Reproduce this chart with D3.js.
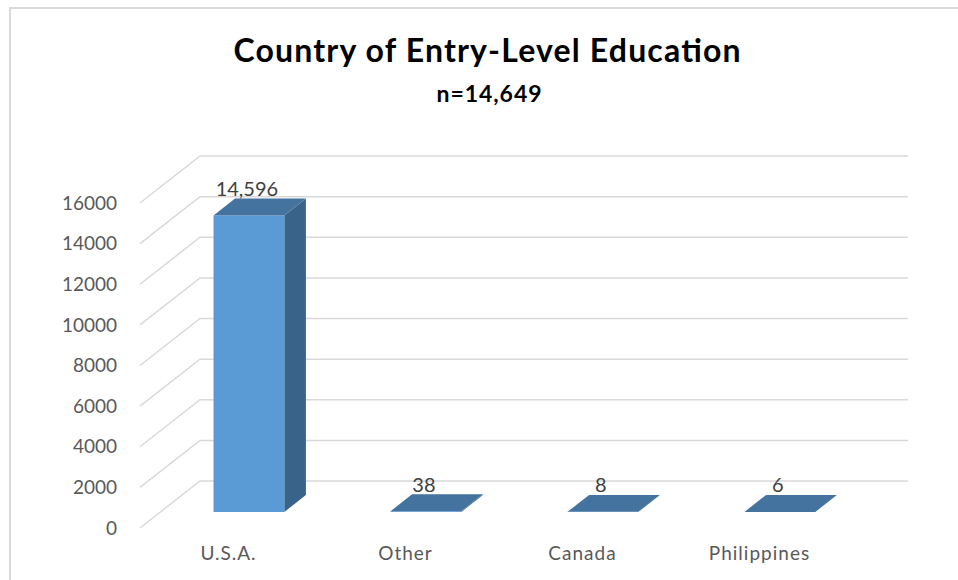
<!DOCTYPE html>
<html>
<head>
<meta charset="utf-8">
<script src="https://cdn.jsdelivr.net/npm/d3@7"></script>
<style>
  body { margin: 0; background: #fff; }
  svg { display: block; font-family: Lato, "Open Sans", sans-serif; }
</style>
</head>
<body>
<svg id="chart"></svg>
<script>
const categories = ["U.S.A.", "Other", "Canada", "Philippines"];
const counts = [14596, 38, 8, 6];
const countLabels = ["14,596", "38", "8", "6"];
const yTicks = [0, 2000, 4000, 6000, 8000, 10000, 12000, 14000, 16000];
const titleText = "Country of Entry-Level Education";
const subtitleText = "n=14,649";

const width = 958, height = 580;
const floorFront = 528;           // y of the front edge of the floor
const depth = { dx: 60, dy: -47 }; // offset of the back wall
const barZ = [0.34, 0.70];        // bar front / back depth (0 = front, 1 = back)

const svg = d3.select("#chart").attr("width", width).attr("height", height);

// chart frame
svg.append("rect")
  .attr("x", 10).attr("y", 8)
  .attr("width", width).attr("height", height)
  .attr("fill", "none")
  .attr("stroke", "#d9d9d9")
  .attr("stroke-width", 2);

const x = d3.scaleBand()
  .domain(categories)
  .range([140, 848])
  .paddingInner(0.6)
  .paddingOuter(0.3);

const y = d3.scaleLinear().domain([0, 16000]).range([0, 325]);

// projection of (x, value, z) into screen coords
const px = (xv, z) => xv + depth.dx * z;
const py = (v, z) => floorFront - y(v) + depth.dy * z;

// gridlines: side wall diagonal + back wall
const grid = svg.append("g").attr("stroke", "#d9d9d9").attr("stroke-width", 1.5).attr("fill", "none");
yTicks.forEach((t) => {
  grid.append("path").attr("d", d3.line()([
    [px(140, 0), py(t, 0)],
    [px(140, 1), py(t, 1)],
    [px(848, 1), py(t, 1)]
  ]));
});

// y axis labels
svg.append("g")
  .selectAll("text")
  .data(yTicks)
  .join("text")
  .attr("x", 117)
  .attr("y", (d) => py(d, 0))
  .attr("dy", "0.35em")
  .attr("text-anchor", "end")
  .attr("fill", "#595959")
  .attr("font-size", 19)
  .text((d) => d);

// bars
const bars = svg.append("g");
categories.forEach((c, i) => {
  const v = counts[i];
  const x0 = x(c), x1 = x(c) + x.bandwidth();
  const [z0, z1] = barZ;
  const g = bars.append("g");
  // side face
  g.append("path")
    .attr("d", d3.line()([
      [px(x1, z0), py(0, z0)], [px(x1, z1), py(0, z1)],
      [px(x1, z1), py(v, z1)], [px(x1, z0), py(v, z0)]
    ]) + "Z")
    .attr("fill", "#3a6389");
  // front face
  g.append("path")
    .attr("d", d3.line()([
      [px(x0, z0), py(0, z0)], [px(x1, z0), py(0, z0)],
      [px(x1, z0), py(v, z0)], [px(x0, z0), py(v, z0)]
    ]) + "Z")
    .attr("fill", "#5b9bd5");
  // top face
  g.append("path")
    .attr("d", d3.line()([
      [px(x0, z0), py(v, z0)], [px(x1, z0), py(v, z0)],
      [px(x1, z1), py(v, z1)], [px(x0, z1), py(v, z1)]
    ]) + "Z")
    .attr("fill", "#44739f");

  // value label just above the top face
  const topMid = (py(v, z0) + py(v, z1)) / 2;
  g.append("text")
    .attr("x", (x0 + x1) / 2 + px(0, z0) - 2)
    .attr("y", topMid - 18)
    .attr("dy", "0.35em")
    .attr("text-anchor", "middle")
    .attr("fill", "#404040")
    .attr("font-size", 20)
    .text(countLabels[i]);
});

// category labels
svg.append("g")
  .selectAll("text")
  .data(categories)
  .join("text")
  .attr("x", (d) => x(d) + x.bandwidth() / 2)
  .attr("y", 560)
  .attr("text-anchor", "middle")
  .attr("fill", "#595959")
  .attr("font-size", 19)
  .attr("letter-spacing", 1)
  .text((d) => d);

// titles
svg.append("text")
  .attr("x", 487).attr("y", 62)
  .attr("text-anchor", "middle")
  .attr("font-size", 32)
  .attr("font-weight", "bold")
  .attr("fill", "#000")
  .attr("textLength", 507)
  .attr("lengthAdjust", "spacing")
  .text(titleText);

svg.append("text")
  .attr("x", 489).attr("y", 102)
  .attr("text-anchor", "middle")
  .attr("font-size", 23)
  .attr("font-weight", "bold")
  .attr("fill", "#000")
  .attr("textLength", 105)
  .attr("lengthAdjust", "spacing")
  .text(subtitleText);
</script>
</body>
</html>
